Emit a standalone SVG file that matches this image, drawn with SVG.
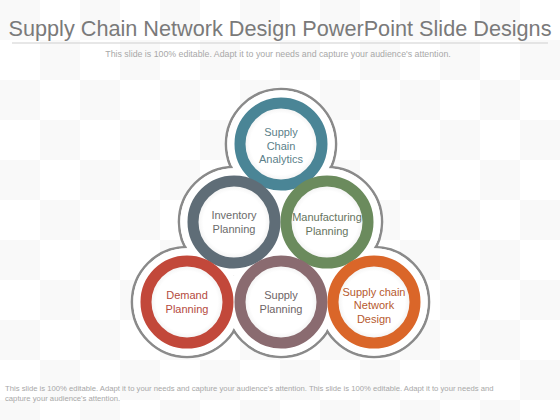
<svg xmlns="http://www.w3.org/2000/svg" width="560" height="420" viewBox="0 0 560 420">
<defs>
<pattern id="chk" width="80" height="80" patternUnits="userSpaceOnUse">
<rect width="80" height="80" fill="#ffffff"/>
<rect width="40" height="40" fill="#f9f9f9"/>
<rect x="40" y="40" width="40" height="40" fill="#f9f9f9"/>
</pattern>
<radialGradient id="inner" cx="0.5" cy="0.5" r="0.5">
<stop offset="0.75" stop-color="#ffffff"/>
<stop offset="0.92" stop-color="#f0f0f0"/>
<stop offset="1" stop-color="#d4d4d4"/>
</radialGradient>
<style>
.title{font-family:"Liberation Sans",Arial,sans-serif;font-size:22px;fill:#7a7a7a}
.sub{font-family:"Liberation Sans",Arial,sans-serif;font-size:8.8px;fill:#a8a8a8}
.foot{font-family:"Liberation Sans",Arial,sans-serif;font-size:7.7px;fill:#a8a8a8}
.lbl{font-family:"Liberation Sans",Arial,sans-serif;font-size:11px;text-anchor:middle}
.ring{stroke-width:11;fill:url(#inner)}
.outline{fill:#ffffff;stroke:#8a8a8a;stroke-width:2.6}
.cover{fill:#ffffff}
</style>
</defs>
<rect width="560" height="420" fill="url(#chk)"/>
<text class="title" x="280" y="36" text-anchor="middle" textLength="543" lengthAdjust="spacingAndGlyphs">Supply Chain Network Design PowerPoint Slide Designs</text>
<line x1="12" y1="43" x2="548" y2="43" stroke="#cfcfcf" stroke-width="1"/>
<text class="sub" x="278" y="57" text-anchor="middle">This slide is 100% editable. Adapt it to your needs and capture your audience's attention.</text>

<g id="outline">
<circle class="outline" cx="281" cy="144" r="55"/>
<circle class="outline" cx="234" cy="222" r="55"/>
<circle class="outline" cx="327" cy="222" r="55"/>
<circle class="outline" cx="187" cy="302" r="55"/>
<circle class="outline" cx="281" cy="302" r="55"/>
<circle class="outline" cx="374" cy="302" r="55"/>
<circle class="cover" cx="281" cy="144" r="53.7"/>
<circle class="cover" cx="234" cy="222" r="53.7"/>
<circle class="cover" cx="327" cy="222" r="53.7"/>
<circle class="cover" cx="187" cy="302" r="53.7"/>
<circle class="cover" cx="281" cy="302" r="53.7"/>
<circle class="cover" cx="374" cy="302" r="53.7"/>
</g>

<g id="supply-chain-analytics">
<circle class="ring" cx="281" cy="144" r="41" stroke="#4a8596"/>
<text class="lbl" x="281" y="136" fill="#5c7f8a">Supply</text>
<text class="lbl" x="281" y="150" fill="#5c7f8a">Chain</text>
<text class="lbl" x="281" y="163" fill="#5c7f8a">Analytics</text>
</g>
<g id="inventory-planning">
<circle class="ring" cx="234" cy="222" r="41" stroke="#5f6d77"/>
<text class="lbl" x="234" y="219" fill="#6b6b6b">Inventory</text>
<text class="lbl" x="234" y="233" fill="#6b6b6b">Planning</text>
</g>
<g id="manufacturing-planning">
<circle class="ring" cx="327" cy="222" r="41" stroke="#6b8b5d"/>
<text class="lbl" x="327" y="221" fill="#66745e">Manufacturing</text>
<text class="lbl" x="327" y="235" fill="#66745e">Planning</text>
</g>
<g id="demand-planning">
<circle class="ring" cx="187" cy="302" r="41" stroke="#c2483a"/>
<text class="lbl" x="187" y="299" fill="#b44a3e">Demand</text>
<text class="lbl" x="187" y="313" fill="#b44a3e">Planning</text>
</g>
<g id="supply-planning">
<circle class="ring" cx="281" cy="302" r="41" stroke="#8a6b70"/>
<text class="lbl" x="281" y="299" fill="#6e6466">Supply</text>
<text class="lbl" x="281" y="313" fill="#6e6466">Planning</text>
</g>
<g id="supply-chain-network-design">
<circle class="ring" cx="374" cy="302" r="41" stroke="#da6629"/>
<text class="lbl" x="374" y="296" fill="#b65a2e">Supply chain</text>
<text class="lbl" x="374" y="309" fill="#b65a2e">Network</text>
<text class="lbl" x="374" y="323" fill="#b65a2e">Design</text>
</g>

<text class="foot" x="5" y="391">This slide is 100% editable. Adapt it to your needs and capture your audience's attention. This slide is 100% editable. Adapt it to your needs and</text>
<text class="foot" x="5" y="401">capture your audience's attention.</text>
</svg>
